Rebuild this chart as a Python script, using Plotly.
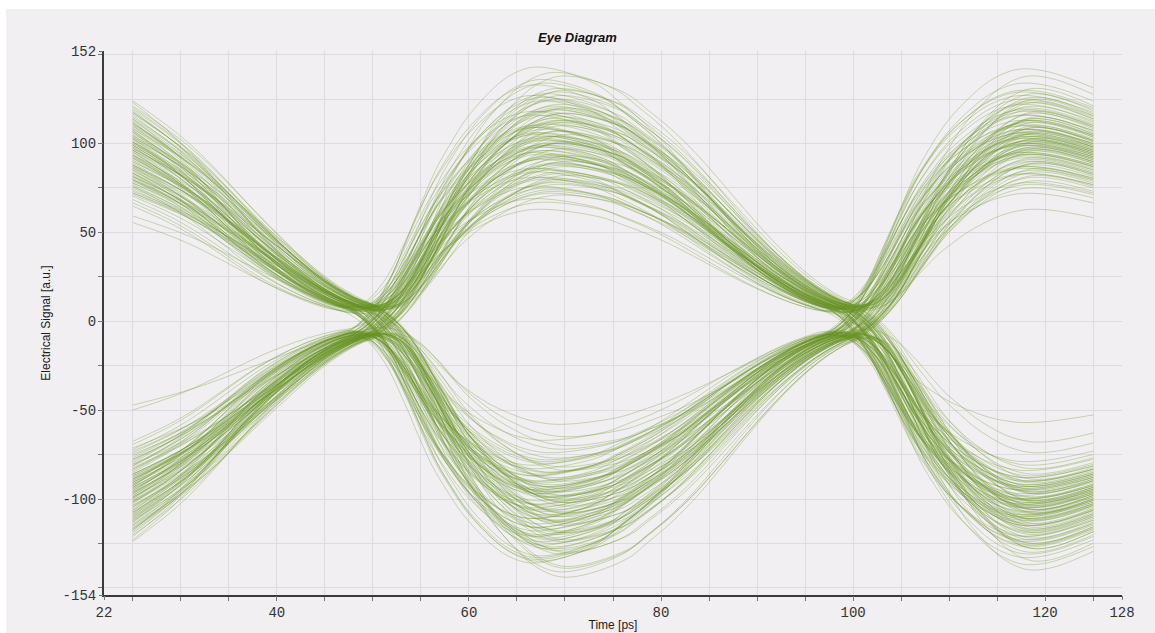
import numpy as np
import plotly.graph_objects as go

# ---- Data -----------------------------------------------------------------
# Normalised pulse (one symbol lobe):
# tau = time after a zero crossing [ps], g = value / lobe peak amplitude
TAU = [0, 2, 4, 6, 7.5, 9, 10.5, 12, 14, 16, 18, 19.5, 22, 26, 28, 30.5,
       33, 35.5, 38, 40.5, 43, 45.5, 48, 50, 52, 54, 56]
G = [0.0, 0.05, 0.16, 0.33, 0.47, 0.60, 0.70, 0.79, 0.88, 0.95, 0.99, 1.0,
     0.985, 0.925, 0.865, 0.785, 0.69, 0.58, 0.465, 0.355, 0.255, 0.17, 0.105,
     0.07, 0.038, 0.015, 0.0]

# zero crossings of the three lobes shown [ps] and visible time window
CROSS_T = [-1.0, 49.0, 99.0]
T_START, T_END = 25, 125
# how strongly the timing jitter acts along the window (none at the cut edges)
WARP_T = [25, 40, 110, 125]
WARP_W = [0.0, 1.0, 1.0, 0.0]

# peak amplitude of each lobe for every trace (left lobe, middle lobe, right lobe)
LEFT_AMP = [
    -96, 104, -124, 80, 112, -88, -79, 126, 93, -110, -131, 99, -84, 118, 72, -116,
    106, -95, 86, -129, -104, 121, 90, -75, -113, 102, 130, -91, -107, 83, -122, 110,
    -101, 76, 115, -93, -126, 96, -87, 133, 98, -117, -81, 107, 123, -100, 85, -111,
    94, -119, -89, 116, 104, -127, 79, -105, -92, 124, 89, -112, -133, 100, -83, 119,
    -114, 103, 88, -96, -134, 109, -101, 70, 120, -106, 95, -78, -118, 113, -99, 82,
    125, -104, -73, 91, 114, -121, 101, -130, -94, 107, -108, 77, 128, -102, 64, -54,
    -98, 87, 108, -115, -90, 127, -86, 97, 92, -123, -106, 112, -80, 121, 105, -97,
    90, -125, -109, 84, 111, -94, 131, -103, -120, 100, 78, -110, 134, -98, -117, 105,
    -107, 95, 117, -82, -100, 109, -124, 88, 103, -93, -113, 119, 86, -107, 127, -88,
    101, -116, -85, 122, 93, -104, 108, -128, -96, 111, 74, -102, -120, 81, -51, 60,
    97, -108, -121, 86, 115, -99, -90, 129, 82, -112, -103, 94, -127, 109, 88, -95,
    -118, 101, 92, -84, -109, 117, 99, -122, -77, 106, 120, -100, -93, 113, 78, -105,
    111, -97, -115, 95, -87, 123, 104, -110, -126, 90, 107, -119, -98, 116, 84, -101,
]
MID_AMP = [
    104, -121, 87, -78, 131, -136, 74, -96, 118, -84, 143, -113, 92, -101, 69, -128,
    -90, 112, -125, 98, -70, 134, -109, 81, -141, 116, -88, 76, -119, 124, -99, 95,
    83, -93, 127, -115, 108, -74, 90, -132, 120, -103, 71, -122, 100, -86, 138, -107,
    -97, 119, -82, 86, -127, 110, -144, 93, -94, 129, -79, 105, -116, 78, -124, 80,
    114, -105, 77, -130, 99, -91, 140, -111, 88, -67, 122, -134, 85, -108, 103, -89,
    -117, 115, -83, 107, -100, 126, -120, 73, -138, 96, -81, 113, -104, 91, -58, 63,
    97, -126, 121, -95, 79, -112, 109, -102, 128, -77, 94, -131, 111, -118, 82, -92,
    -106, 89, -123, 117, -87, 101, -72, 106, -110, 84, -139, 102, -98, 133, -85, 110,
    125, -114, 93, -99, 136, -90, 75, -129, 106, -110, 72, -121, 101, -80, 111, -103,
    -96, 100, -133, 89, -108, 118, -94, 104, -119, 80, -101, 130, -97, 93, -65, 67,
    -112, 98, 117, -87, 104, -123, -95, 112, 86, -107, -128, 120, 91, -99, -116, 107,
    96, -118, -90, 124, -104, 81, 113, -135, -98, 102, 88, -111, 127, -93, -106, 99,
    -102, 109, 94, -120, -85, 116, -114, 100, 84, -96, 119, -109, -124, 105, 92, -113,
]
RIGHT_AMP = [
    121, -93, -106, 112, -86, 127, 102, -117, -100, 82, 108, -130, 94, -104, -113, 99,
    -109, 90, 124, -79, 115, -102, -125, 106, 85, -119, -91, 134, -108, 101, 77, -111,
    88, -127, -97, 107, -115, 96, 118, -84, -105, 130, 100, -92, -122, 110, -74, 104,
    -103, 113, 81, -133, 97, -110, -89, 123, 105, -99, -118, 86, 142, -107, 93, -96,
    107, -121, -83, 103, -137, 116, 90, -100, -112, 92, 128, -105, -87, 109, -124, 75,
    -94, 101, 111, -108, 79, -126, -103, 119, 96, -114, -95, 131, 104, -140, 63, -57,
    114, -88, -111, 94, -106, 108, 122, -128, -92, 102, 83, -116, -101, 125, 89, -109,
    -123, 98, 105, -97, 129, -90, -118, 100, 113, -104, -135, 87, 97, -112, -81, 117,
    91, -107, -102, 120, -93, 110, 78, -125, -109, 106, 99, -95, -114, 103, 138, -100,
    -111, 104, 86, -120, 109, -98, -106, 95, 126, -131, -90, 112, 100, -103, -68, 72,
    98, -115, -101, 119, -90, 106, 87, -123, 113, -97, -108, 125, -94, 102, 95, -119,
    -105, 92, 116, -101, 84, -112, -126, 103, 97, -88, -117, 110, 123, -99, -93, 108,
    101, -110, -96, 114, -121, 99, 89, -104, -115, 118, 94, -102, -128, 106, 83, -95,
]
# timing jitter of each trace [ps]
JITTER = [
    0.6, -1.2, 1.5, -0.3, 0.9, -1.8, 0.2, 1.1, -0.7, 1.8, -1.4, 0.4, -0.1, 1.3, -1.6, 0.7,
    -0.9, 1.6, 0.1, -1.1, 1.9, -0.5, 0.8, -1.7, 1.2, -0.2, 0.5, -1.3, 1.7, -0.8, 0.3, -1.5,
    1.0, -0.4, -1.9, 1.4, -0.6, 0.0, 1.8, -1.0, 0.6, -1.6, 1.1, -0.3, 0.9, -1.2, 1.5, -0.7,
    -1.4, 0.7, 1.3, -0.9, 0.2, -1.7, 1.6, -0.1, -1.1, 0.8, -0.5, 1.9, -1.3, 0.4, -0.8, 1.2,
    0.3, -1.5, 0.9, 1.7, -0.2, -1.0, 0.5, -1.8, 1.4, -0.6, 1.0, -1.4, 0.1, 1.6, -0.9, 0.6,
    -0.4, 1.1, -1.6, 0.8, 1.5, -0.7, -1.2, 0.3, 1.8, -0.3, -1.9, 1.3, -0.5, 0.7, 0.9, -1.1,
    1.4, -0.8, 0.4, -1.3, 1.0, 0.2, -1.7, 1.6, -0.4, 0.6, -1.0, 1.2, -0.6, -1.5, 1.8, 0.0,
    -1.2, 0.9, -0.1, 1.5, -1.8, 0.5, 1.1, -0.9, 0.3, -1.4, 1.7, -0.2, 0.8, -1.6, 0.1, 1.3,
    0.7, -1.1, 1.9, -0.5, -0.9, 1.4, -0.3, 0.6, -1.5, 1.2, 0.0, -1.7, 1.6, -0.6, 0.4, -1.0,
    -0.2, 1.0, -1.3, 0.5, 1.3, -1.9, 0.8, -0.7, 1.1, -0.4, -1.2, 1.5, -0.8, 0.2, 1.7, -0.6,
    0.9, -0.6, 1.4, -1.5, 0.2, 1.7, -1.1, 0.5, -1.8, 1.0, -0.3, 1.6, -0.9, 0.4, -1.4, 1.1,
    -0.7, 1.3, -1.6, 0.1, 1.8, -0.4, 0.7, -1.2, 1.5, -0.8, 0.3, -1.9, 1.2, -0.2, 0.6, -1.0,
    1.6, -1.3, 0.4, 0.8, -0.5, -1.7, 1.9, -0.1, 1.0, -1.1, 0.5, -0.6, 1.4, -1.5, 0.0, 1.2,
]

X_TICKS = [22, 40, 60, 80, 100, 120, 128]
Y_TICKS = [-154, -100, -50, 0, 50, 100, 152]
X_RANGE = [22, 128]
Y_RANGE = [-154, 152]

# ---------------------------------------------------------------------------
G_AT = dict(zip(TAU, G))


def trace_points(amps, jitter):
    xs, ys = [], []
    for k, (c, a) in enumerate(zip(CROSS_T, amps)):
        prev = amps[k - 1] if k > 0 else None
        for tau, g in zip(TAU, G):
            if tau >= 50:
                continue
            t = c + tau
            if t < T_START - 1e-9 or t > T_END + 1e-9:
                continue
            v = a * g
            if prev is not None and (tau + 50) in G_AT:
                v += prev * G_AT[tau + 50]
            xs.append(t + jitter * float(np.interp(t, WARP_T, WARP_W)))
            ys.append(v)
    return xs, ys


LINE_COLOR = "rgba(104,146,34,0.32)"
fig = go.Figure()
for l_amp, m_amp, r_amp, jit in zip(LEFT_AMP, MID_AMP, RIGHT_AMP, JITTER):
    xs, ys = trace_points([l_amp, m_amp, r_amp], jit)
    fig.add_trace(go.Scatter(x=xs, y=ys, mode="lines",
                             line=dict(color=LINE_COLOR, width=1, shape="spline"),
                             hoverinfo="skip", showlegend=False))

# dummy trace that carries the labelled overlay axes
fig.add_trace(go.Scatter(x=[None], y=[None], xaxis="x2", yaxis="y2",
                         mode="markers", showlegend=False, hoverinfo="skip"))

BG = "#f1eff2"
GRID = "#dddbdf"
AXIS = "#3a3a3a"
TICKFONT = dict(family="Liberation Mono, monospace", size=14, color="#333333")
TITLEFONT = dict(family="Liberation Sans, Arial, sans-serif", size=12, color="#1a1a1a")

# plot area in pixels: x 104..1122, y 51..595  -> white frame strips in paper units
PLOT_L, PLOT_W, PLOT_B, PLOT_H = 104, 1018, 595, 544
frame = [
    dict(type="rect", xref="paper", yref="paper", layer="above", line=dict(width=0),
         fillcolor="white",
         x0=(0 - PLOT_L) / PLOT_W, x1=(6 - PLOT_L) / PLOT_W,
         y0=(PLOT_B - 640) / PLOT_H, y1=(PLOT_B + 5) / PLOT_H),
    dict(type="rect", xref="paper", yref="paper", layer="above", line=dict(width=0),
         fillcolor="white",
         x0=(0 - PLOT_L) / PLOT_W, x1=(1160 - PLOT_L) / PLOT_W,
         y0=(PLOT_B - 9) / PLOT_H, y1=(PLOT_B + 5) / PLOT_H),
]

fig.update_layout(
    width=1155, height=633, autosize=False,
    margin=dict(l=104, r=33, t=51, b=38, pad=0),
    paper_bgcolor=BG, plot_bgcolor=BG,
    showlegend=False,
    shapes=frame,
    title=dict(text="<b><i>Eye Diagram</i></b>", x=0.5, xref="container",
               y=1 - 37 / 633, yref="container", xanchor="center", yanchor="middle",
               font=dict(family="Liberation Sans, Arial, sans-serif", size=13, color="#111111")),
    xaxis=dict(range=X_RANGE, autorange=False, tick0=0, dtick=5,
               showgrid=True, gridcolor=GRID, gridwidth=1,
               ticks="outside", ticklen=4, tickcolor="#777777",
               showticklabels=False, showline=True, linecolor=AXIS, linewidth=1.5,
               zeroline=False, fixedrange=True, automargin=False),
    yaxis=dict(range=Y_RANGE, autorange=False, tick0=0, dtick=25,
               showgrid=True, gridcolor=GRID, gridwidth=1,
               ticks="outside", ticklen=4, tickcolor="#777777",
               showticklabels=False, showline=True, linecolor=AXIS, linewidth=1.5,
               zeroline=False, fixedrange=True, automargin=False),
    xaxis2=dict(overlaying="x", anchor="y", side="bottom", range=X_RANGE, autorange=False,
                tickmode="array", tickvals=X_TICKS, ticktext=[str(v) for v in X_TICKS],
                ticks="outside", ticklen=4, tickcolor="#777777",
                showgrid=False, showline=False, zeroline=False, tickfont=TICKFONT,
                title=dict(text="Time [ps]", font=TITLEFONT, standoff=0),
                fixedrange=True, automargin=False),
    yaxis2=dict(overlaying="y", anchor="x", side="left", range=Y_RANGE, autorange=False,
                tickmode="array", tickvals=Y_TICKS,
                ticktext=[str(v) for v in Y_TICKS],
                ticks="outside", ticklen=4, tickcolor="#777777",
                showgrid=False, showline=False, zeroline=False, tickfont=TICKFONT,
                title=dict(text="Electrical Signal [a.u.]", font=TITLEFONT, standoff=9),
                fixedrange=True, automargin=False),
)

fig.write_html("out.html")
